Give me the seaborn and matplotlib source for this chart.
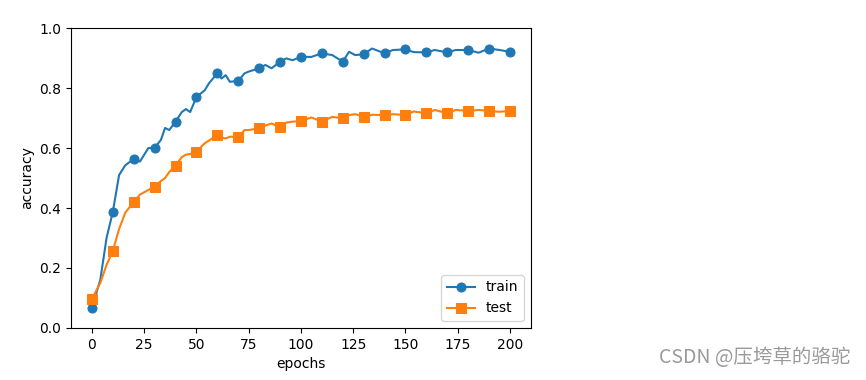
import numpy as np
import pandas as pd
import matplotlib
matplotlib.use("Agg")
import matplotlib.pyplot as plt
import seaborn as sns

# values
epochs = [0, 4, 7, 10, 13, 16, 20, 23, 27, 30, 33, 35, 37, 40, 43, 45, 47, 50,
          54, 56, 60, 62, 64, 66, 70, 73, 75, 80, 83, 86, 90, 93, 96, 100, 105,
          110, 115, 120, 123, 126, 130, 134, 140, 144, 150, 154, 160, 164, 170,
          174, 180, 185, 190, 195, 200]

train_acc = [0.068, 0.16, 0.30, 0.387, 0.51, 0.543, 0.563, 0.555, 0.60, 0.601,
             0.627, 0.667, 0.66, 0.688, 0.72, 0.73, 0.72, 0.770, 0.793, 0.816,
             0.849, 0.832, 0.843, 0.821, 0.824, 0.849, 0.855, 0.866, 0.877,
             0.866, 0.888, 0.899, 0.893, 0.904, 0.904, 0.916, 0.91, 0.888,
             0.921, 0.91, 0.913, 0.932, 0.916, 0.927, 0.929, 0.92, 0.919,
             0.927, 0.919, 0.927, 0.927, 0.918, 0.932, 0.927, 0.921]

test_acc = [0.097, 0.15, 0.21, 0.257, 0.33, 0.385, 0.42, 0.445, 0.46, 0.471,
            0.49, 0.50, 0.52, 0.541, 0.57, 0.578, 0.58, 0.588, 0.616, 0.625,
            0.643, 0.635, 0.632, 0.638, 0.636, 0.66, 0.66, 0.666, 0.675,
            0.682, 0.669, 0.685, 0.688, 0.69, 0.702, 0.688, 0.704, 0.699,
            0.71, 0.713, 0.704, 0.711, 0.71, 0.713, 0.71, 0.722, 0.716,
            0.727, 0.716, 0.727, 0.724, 0.727, 0.724, 0.721, 0.724]

# markers only on every 10th epoch
mark_idx = [i for i, e in enumerate(epochs) if e % 10 == 0]

fig = plt.figure(figsize=(8.66, 3.8), dpi=100)
ax = fig.add_axes([0.082, 0.137, 0.531, 0.789])

sns.lineplot(x=epochs, y=train_acc, ax=ax, color="C0", marker="o",
             markevery=mark_idx, markersize=6.5, markeredgecolor="C0",
             label="train")
sns.lineplot(x=epochs, y=test_acc, ax=ax, color="C1", marker="s",
             markevery=mark_idx, markersize=6.5, markeredgecolor="C1",
             label="test")

ax.set_xlabel("epochs")
ax.set_ylabel("accuracy")
ax.set_ylim(0, 1.0)
ax.set_xlim(-10, 210)
ax.set_xticks([0, 25, 50, 75, 100, 125, 150, 175, 200])
ax.legend(loc="lower right")

fig.text(0.982, 0.058, "CSDN @压垮草的骆驼", ha="right", va="center",
         fontsize=14, color="#9a9a9a",
         family=["Noto Sans CJK SC", "DejaVu Sans"])

fig.savefig("out.png", dpi=100)
